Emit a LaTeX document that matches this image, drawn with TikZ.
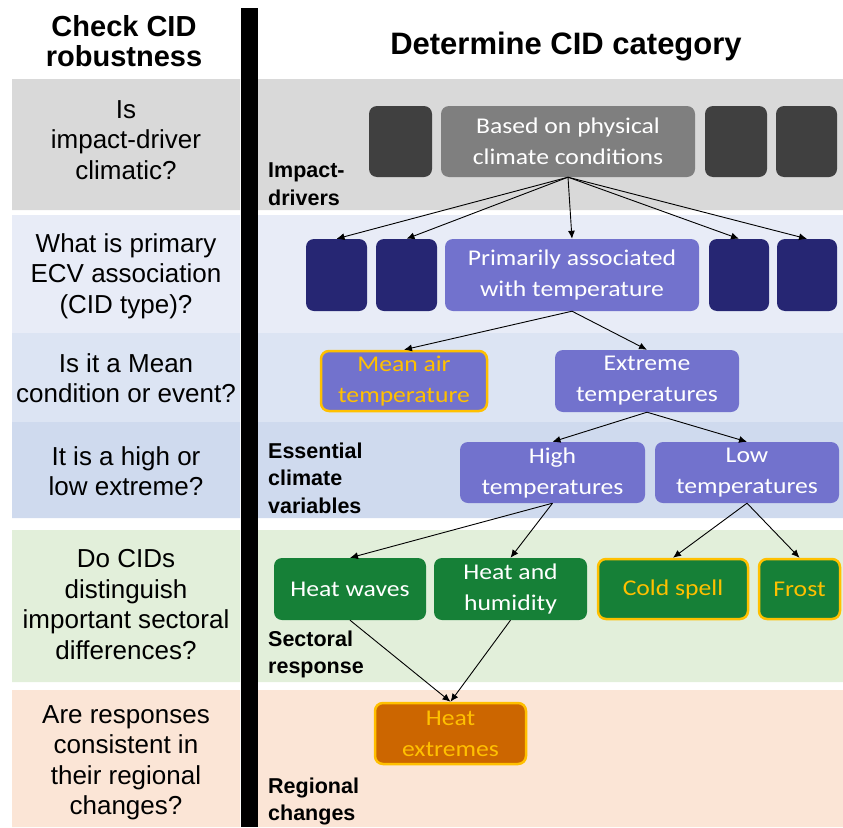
\documentclass[tikz,border=0pt]{standalone}
\usepackage{fontspec}
\setmainfont{Liberation Sans}
\newfontfamily\boxfont[FakeStretch=1.14]{Carlito}
\usetikzlibrary{arrows.meta}

\definecolor{bandgray}{HTML}{D9D9D9}
\definecolor{bandtype}{HTML}{E8ECF7}
\definecolor{bandmean}{HTML}{DCE4F3}
\definecolor{bandhigh}{HTML}{CFDAEE}
\definecolor{bandsect}{HTML}{E2EFDA}
\definecolor{bandregion}{HTML}{FBE5D6}
\definecolor{darkgray}{HTML}{404040}
\definecolor{midgray}{HTML}{7F7F7F}
\definecolor{navy}{HTML}{262673}
\definecolor{ecvblue}{HTML}{7272CD}
\definecolor{sectgreen}{HTML}{168037}
\definecolor{heatorange}{HTML}{CC6600}
\definecolor{gold}{HTML}{FFC000}

\tikzset{
  question/.style={anchor=north, align=center, inner sep=0pt, font=\fontsize{26}{30.5}\selectfont},
  level/.style={anchor=north west, align=left, inner sep=0pt, font=\bfseries\fontsize{21.5}{27.5}\selectfont},
  cidbox/.style={rounded corners=8pt, align=center, inner sep=0pt, text=white, font=\boxfont\fontsize{22.5}{31}\selectfont},
  highlight/.style={draw=gold, line width=2.5pt, text=gold},
  link/.style={->, line width=0.9pt}
}

\begin{document}
\begin{tikzpicture}[x=1pt, y=-1pt, >={Latex[length=8pt,width=7pt]}]
    \useasboundingbox (0,0) rectangle (843,827);

    % Bands behind both columns
    \fill[bandgray] (12,79) rectangle (240,210) (258,79) rectangle (843,210);
    \fill[bandtype] (12,215) rectangle (240,333) (258,215) rectangle (843,333);
    \fill[bandmean] (12,333) rectangle (240,422) (258,333) rectangle (843,422);
    \fill[bandhigh] (12,422) rectangle (240,518) (258,422) rectangle (843,518);
    \fill[bandsect] (12,530) rectangle (240,682) (258,530) rectangle (843,682);
    \fill[bandregion] (12,690) rectangle (240,827) (258,690) rectangle (843,827);

    % Black divider
    \fill[black] (241,8) rectangle (258,827);

    % Headings
    \node[question, font=\bfseries\fontsize{29}{30.5}\selectfont] (check) at (124,15.2) {Check CID\\robustness};
    \node[anchor=base, inner sep=0pt, font=\bfseries\fontsize{31}{34}\selectfont] (title) at (566,54) {Determine CID category};

    % Questions on the left
    \node[question] (q1) at (126,100.4) {Is\\impact-driver\\climatic?};
    \node[question] (q2) at (126,233.4) {What is primary\\ECV association\\(CID type)?};
    \node[question] (q3) at (126,353.4) {Is it a Mean\\condition or event?};
    \node[question] (q4) at (126,446.4) {It is a high or\\low extreme?};
    \node[question] (q5) at (126,549.4) {Do CIDs\\distinguish\\important sectoral\\differences?};
    \node[question] (q6) at (126,705.4) {Are responses\\consistent in\\their regional\\changes?};

    % Level labels
    \node[level] (drivers) at (268,162.6) {Impact-\\drivers};
    \node[level] (ecv) at (268,442.6) {Essential\\climate\\variables};
    \node[level] (sector) at (268,630.6) {Sectoral\\response};
    \node[level] (region) at (268,777.6) {Regional\\changes};

    % Impact-drivers row
    \node[cidbox, fill=darkgray, minimum width=63pt, minimum height=71pt] (d1) at (400.5,141.5) {};
    \node[cidbox, fill=midgray, minimum width=254pt, minimum height=71pt] (basis) at (568,141.5) {Based on physical\\climate conditions};
    \node[cidbox, fill=darkgray, minimum width=62pt, minimum height=71pt] (d3) at (736,141.5) {};
    \node[cidbox, fill=darkgray, minimum width=61pt, minimum height=71pt] (d4) at (806.5,141.5) {};

    % CID type row
    \node[cidbox, fill=navy, minimum width=61pt, minimum height=72pt] (t1) at (336.5,275) {};
    \node[cidbox, fill=navy, minimum width=61pt, minimum height=72pt] (t2) at (406.5,275) {};
    \node[cidbox, fill=ecvblue, minimum width=254pt, minimum height=72pt] (temp) at (572,275) {Primarily associated\\with temperature};
    \node[cidbox, fill=navy, minimum width=60pt, minimum height=72pt] (t4) at (739,275) {};
    \node[cidbox, fill=navy, minimum width=60pt, minimum height=72pt] (t5) at (807,275) {};

    % Mean or event
    \node[cidbox, fill=ecvblue, highlight, minimum width=166pt, minimum height=60pt] (mean) at (404,381) {Mean air\\temperature};
    \node[cidbox, fill=ecvblue, minimum width=184pt, minimum height=62pt] (extreme) at (647,381) {Extreme\\temperatures};

    % High or low
    \node[cidbox, fill=ecvblue, minimum width=185pt, minimum height=61pt] (high) at (552.5,472.5) {High\\temperatures};
    \node[cidbox, fill=ecvblue, minimum width=184pt, minimum height=61pt] (low) at (747,472.5) {Low\\temperatures};

    % Sectoral response
    \node[cidbox, fill=sectgreen, minimum width=152pt, minimum height=62pt] (waves) at (350,589) {Heat waves};
    \node[cidbox, fill=sectgreen, minimum width=153pt, minimum height=62pt] (humid) at (510.5,589) {Heat and\\humidity};
    \node[cidbox, fill=sectgreen, highlight, minimum width=150pt, minimum height=60pt] (cold) at (673,589) {Cold spell};
    \node[cidbox, fill=sectgreen, highlight, minimum width=81pt, minimum height=60pt] (frost) at (799.5,589) {Frost};

    % Regional changes
    \node[cidbox, fill=heatorange, highlight, minimum width=151pt, minimum height=61pt] (hot) at (450.5,733.5) {Heat\\extremes};

    % Connectors
    \draw[link] (basis.south) -- (t1.north);
    \draw[link] (basis.south) -- (t2.north);
    \draw[link] (basis.south) -- (temp.north);
    \draw[link] (basis.south) -- (t4.north);
    \draw[link] (basis.south) -- (t5.north);
    \draw[link] (temp.south) -- (mean.north);
    \draw[link] (temp.south) -- (extreme.north);
    \draw[link] (extreme.south) -- (high.north);
    \draw[link] (extreme.south) -- (low.north);
    \draw[link] (high.south) -- (waves.north);
    \draw[link] (high.south) -- (humid.north);
    \draw[link] (low.south) -- (cold.north);
    \draw[link] (low.south) -- (frost.north);
    \draw[link] (waves.south) -- (hot.north);
    \draw[link] (humid.south) -- (hot.north);
\end{tikzpicture}
\end{document}
